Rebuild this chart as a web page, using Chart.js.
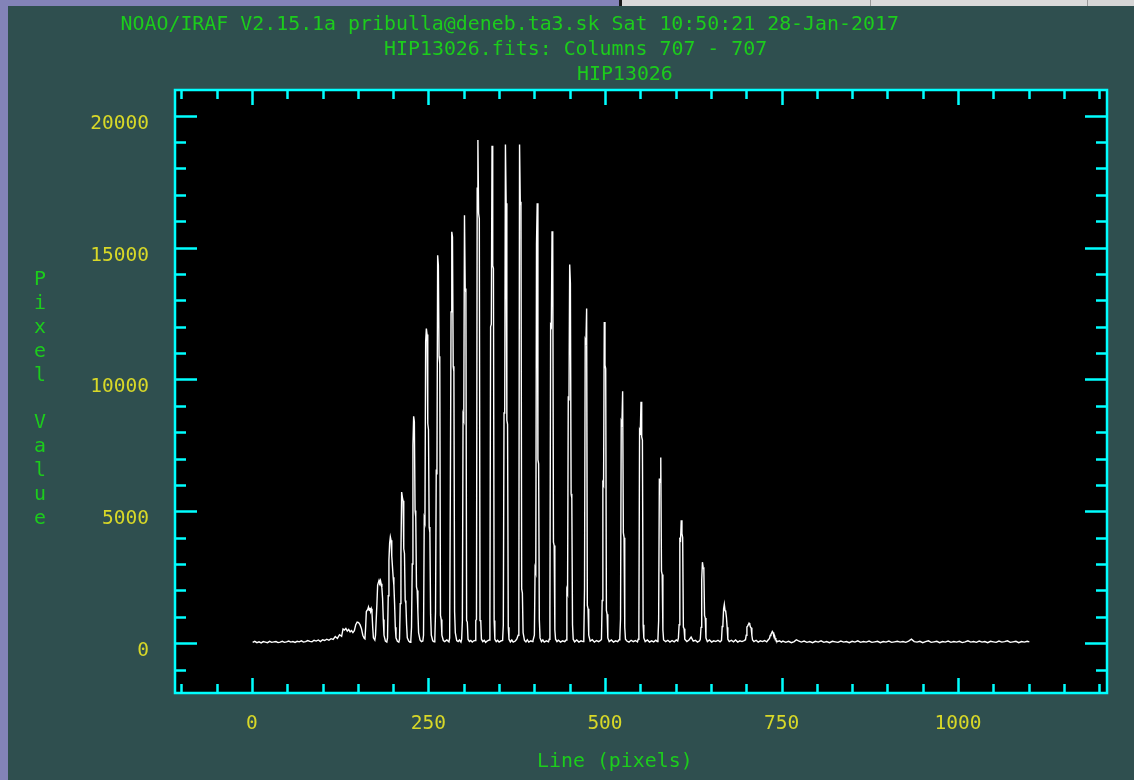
<!DOCTYPE html>
<html>
<head>
<meta charset="utf-8">
<script src="https://cdn.jsdelivr.net/npm/chart.js@4.4.1/dist/chart.umd.min.js"></script>
<style>
html,body{margin:0;padding:0;background:#2f4f4f;width:1134px;height:780px;overflow:hidden;}
#wrap{position:relative;width:1134px;height:780px;}
#c{position:absolute;left:0;top:0;}
.strip{position:absolute;box-sizing:border-box;}
</style>
</head>
<body>
<div id="wrap">
<canvas id="c" width="1134" height="780"></canvas>
<div class="strip" style="left:0;top:0;width:8px;height:780px;background:#8383b8"></div>
<div class="strip" style="left:0;top:0;width:619px;height:6px;background:#8383b8"></div>
<div class="strip" style="left:619px;top:0;width:252px;height:6px;background:#d9d9d9;border-left:3px solid #1a1a1a;border-right:1px solid #999"></div>
<div class="strip" style="left:871px;top:0;width:217px;height:6px;background:#dadada;border-right:1px solid #999"></div>
<div class="strip" style="left:1088px;top:0;width:46px;height:6px;background:#d6d6d6"></div>
</div>
<script>
// ---- Texts ----
const systemLine = "NOAO/IRAF V2.15.1a pribulla@deneb.ta3.sk Sat 10:50:21 28-Jan-2017";
const fileLine = "HIP13026.fits: Columns 707 - 707";
const objectLine = "HIP13026";
const xAxisTitle = "Line (pixels)";
const yAxisTitle = "Pixel Value";

// ---- Axis ticks ----
const xMajorTicks = [0, 250, 500, 750, 1000];
const yMajorTicks = [0, 5000, 10000, 15000, 20000];
const xRange = [-109, 1211];
const yRange = [-1890, 20975];

// ---- Spectrum (line, pixel value) ----
const farLeftWing = [
  [1,30],[4,70],[7,20],[10,50],[13,10],[16,60],[19,40],[22,20],[25,70],[28,30],
  [31,50],[34,60],[37,20],[40,40],[43,70],[46,30],[49,50],[52,80],[55,40],[58,60],
  [61,30],[64,70],[67,50],[70,90],[73,40],[76,60],[79,100],[82,70],[85,50],[88,110],
  [91,80],[94,120],[97,60],[100,130],[103,100],[106,150],[109,110],[112,170],[115,140],
  [118,250],[121,180],[124,320],[127,260]
];
const risingOrders = [
  [129,540],[131,500],[133,560],[135,460],[137,520],[139,430],[141,480],[143,400],[145,470],
  [147,700],[149,800],[151,780],[153,700],[155,560],[157,300],[159,180],[160,160],
  [161,600],[162,1200],[164,1280],[165,1370],[166,1250],[167,1340],[168,1200],[169,1300],[170,1150],[171,600],[172,200],[174,120],
  [175,300],[177,1500],[178,2200],[180,2380],[181,2300],[182,2380],[183,2250],[184,2100],[185,1700],[186,900],[187,300],[189,80],[191,40],
  [192,200],[193,1800],[194,3140],[195,3800],[196,4030],[197,3900],[198,3300],[199,2900],[200,2500],[201,2190],[202,1500],[203,600],[204,200],[206,70],[208,40],
  [209,150],[210,1500],[211,3390],[212,5730],[213,5540],[214,5400],[215,3580],[216,3400],[217,1620],[218,1500],[219,700],[220,200],[222,80],[224,30],
  [225,100],[226,600],[227,3000],[228,7500],[229,8600],[230,8400],[231,5030],[232,4800],[233,2130],[234,2000],[235,1200],[236,400],[238,120],[240,60],
  [242,80],[243,300],[244,4720],[245,4600],[246,11420],[247,11930],[248,11700],[249,8330],[250,8100],[251,4400],[252,4200],[253,1100],[254,300],[256,90],[258,50],
  [259,150],[260,1200],[261,6580],[262,6400],[263,14710],[264,14330],[265,10880],[266,10600],[267,1050],[268,900],[269,300],[271,100],[273,60],[276,120],[279,50]
];
const peakOrders = [
  [280,200],[281,5860],[282,12560],[283,15600],[284,15400],[285,10500],[286,10300],[287,1200],[288,400],[290,100],[292,60],[294,120],[296,40],
  [297,150],[298,860],[299,8630],[300,8500],[301,16230],[302,13450],[303,13300],[304,860],[305,800],[306,150],[308,60],[310,100],[312,40],[314,90],
  [316,100],[317,860],[318,900],[319,17250],[320,19080],[321,16300],[322,16100],[323,860],[324,880],[325,150],[327,60],[329,110],[331,30],[333,80],
  [336,120],[337,860],[338,11990],[339,12100],[340,18860],[341,14310],[342,14200],[343,860],[344,150],[346,60],[348,110],[350,40],[353,90],
  [355,100],[356,700],[357,8730],[358,8800],[359,18910],[360,16680],[361,8450],[362,8300],[363,600],[364,150],[366,50],[368,120],[370,40],[373,80],[375,150],
  [377,300],[378,1500],[379,18910],[380,16740],[381,16600],[382,2060],[383,1900],[384,400],[386,100],[388,50],[390,130],[392,40],[395,90],[397,60],
  [398,100],[400,300],[401,2820],[402,2700],[403,15120],[404,16680],[405,6960],[406,6800],[407,900],[408,200],[410,60],[412,120],[414,40],[417,90],[420,50],
  [421,150],[422,1240],[423,12060],[424,12000],[425,15620],[426,15310],[427,3830],[428,3700],[429,500],[430,150],[432,60],[434,110],[437,40],[440,90],[443,60],
  [445,120],[446,2000],[447,1900],[448,9360],[449,9200],[450,14360],[451,13640],[452,5670],[453,5500],[454,700],[455,150],[457,50],[460,120],[463,40],[466,90],[469,60]
];
const fallingOrders = [
  [470,150],[471,2060],[472,11490],[473,11400],[474,12690],[475,1430],[476,1300],[477,300],[479,80],[482,130],[485,40],[488,100],[491,60],[494,110],
  [495,150],[496,1620],[497,6070],[498,6000],[499,12180],[500,10540],[501,10400],[502,1240],[503,1100],[504,200],[506,60],[509,120],[512,40],[515,90],[518,60],[520,130],
  [521,200],[522,925],[523,8390],[524,8300],[525,9550],[526,4190],[527,4000],[528,600],[529,150],[531,80],[534,40],[537,110],[540,60],[543,100],[546,50],
  [547,150],[548,670],[549,8070],[550,8000],[551,9150],[552,7820],[553,7700],[554,700],[555,200],[557,60],[560,120],[563,40],[566,90],[569,50],[572,110],[574,60],
  [575,150],[576,860],[577,6240],[578,6100],[579,7040],[580,2730],[581,2600],[582,500],[583,120],[586,60],[589,110],[592,40],[595,100],[598,50],[601,120],[603,80],
  [604,200],[605,700],[606,3940],[607,3900],[608,4660],[609,4150],[610,4000],[611,610],[612,550],[613,150],[616,60],[619,120],[622,230],[625,80],[628,110],[631,40],[634,90],
  [635,150],[636,600],[637,2400],[638,3070],[639,2880],[640,2800],[641,1050],[642,950],[643,200],[645,60],[648,120],[651,40],[654,90],[657,60],[660,110],[663,50],
  [665,100],[666,630],[667,700],[668,1300],[669,1470],[670,1240],[671,1200],[672,980],[673,600],[674,150],[676,60],[679,110],[682,50],[685,120],[688,40],[691,90],[694,60],[697,100],[699,130],
  [700,300],[701,610],[702,650],[703,700],[704,760],[705,720],[706,610],[707,580],[708,300],[709,120],[711,60],[714,110],[717,40],[720,90],[723,60],[726,100],[729,50],[731,120],[733,180],
  [734,290],[735,330],[736,380],[737,440],[738,400],[739,290],[740,300],[741,200],[742,120],[744,60],[747,90],[750,40]
];
const farRightWing = [
  [752,80],[756,30],[760,70],[764,20],[768,60],[771,130],[774,90],[778,40],[782,80],[786,30],
  [790,60],[794,20],[798,70],[802,40],[806,90],[810,30],[814,60],[818,20],[822,70],[826,50],
  [830,30],[834,80],[838,40],[842,60],[846,20],[850,70],[854,40],[858,90],[862,30],[866,60],
  [870,40],[874,80],[878,30],[882,50],[886,70],[890,20],[894,60],[898,40],[902,80],[906,30],
  [910,50],[914,70],[918,40],[922,60],[926,30],[930,80],[934,150],[938,60],[942,40],[946,70],
  [950,20],[954,60],[958,90],[962,30],[966,50],[970,70],[974,20],[978,60],[982,40],[986,80],
  [990,30],[994,60],[998,40],[1002,70],[1006,20],[1010,50],[1014,90],[1018,40],[1022,60],[1026,30],
  [1030,80],[1034,40],[1038,60],[1042,20],[1046,70],[1050,50],[1054,30],[1058,80],[1062,40],[1066,60],
  [1070,90],[1074,30],[1078,50],[1082,70],[1086,20],[1090,60],[1094,40],[1098,70],[1101,50]
];

const spectrum = [].concat(farLeftWing, risingOrders, peakOrders, fallingOrders, farRightWing)
  .map(([x, y]) => ({x, y}));

const FONT = 'DejaVu Sans Mono';
const GREEN = '#1ccc1c';
const YELLOW = '#d8d828';
const CYAN = '#00ffff';

const framePlugin = {
  id: 'irafFrame',
  beforeDraw(chart) {
    const {ctx, chartArea: a} = chart;
    ctx.save();
    ctx.fillStyle = '#000000';
    ctx.fillRect(a.left, a.top, a.right - a.left, a.bottom - a.top);
    ctx.restore();
  },
  afterDraw(chart) {
    const {ctx, chartArea: a} = chart;
    const xs = chart.scales.x, ys = chart.scales.y;
    ctx.save();
    ctx.strokeStyle = CYAN;
    ctx.lineWidth = 2.5;
    ctx.beginPath();
    // x ticks (bottom and top), every 50
    for (let v = -100; v <= 1200; v += 50) {
      const px = Math.round(xs.getPixelForValue(v)) + 0.5;
      const len = (v % 250 === 0) ? 15 : 9;
      ctx.moveTo(px, a.bottom); ctx.lineTo(px, a.bottom - len);
      ctx.moveTo(px, a.top); ctx.lineTo(px, a.top + len);
    }
    // y ticks (left and right), every 1000
    for (let v = -1000; v <= 20000; v += 1000) {
      const py = Math.round(ys.getPixelForValue(v)) + 0.5;
      const len = (v % 5000 === 0) ? 22 : 11;
      ctx.moveTo(a.left, py); ctx.lineTo(a.left + len, py);
      ctx.moveTo(a.right, py); ctx.lineTo(a.right - len, py);
    }
    ctx.stroke();
    ctx.strokeRect(a.left, a.top, a.right - a.left, a.bottom - a.top);

    // titles
    ctx.font = '19.9px "' + FONT + '"';
    ctx.fillStyle = GREEN;
    ctx.textAlign = 'left';
    ctx.textBaseline = 'alphabetic';
    ctx.fillText(systemLine, 120.5, 29.5);
    ctx.fillText(fileLine, 384, 54.5);
    ctx.fillText(objectLine, 577, 79.5);
    // x axis title
    ctx.fillText(xAxisTitle, 537, 767);
    // y axis title, one letter per row
    ctx.textAlign = 'center';
    const letters = yAxisTitle.split('');
    letters.forEach((ch, i) => {
      if (ch !== ' ') ctx.fillText(ch, 40, 285 + i * 23.9);
    });
    ctx.restore();
  }
};

new Chart(document.getElementById('c'), {
  type: 'line',
  data: {
    datasets: [{
      data: spectrum,
      borderColor: '#ffffff',
      borderWidth: 1.4,
      pointRadius: 0,
      tension: 0,
      fill: false
    }]
  },
  options: {
    responsive: false,
    animation: false,
    devicePixelRatio: 1,
    layout: {padding: {top: 90, right: 27, left: 0, bottom: 0}},
    plugins: {legend: {display: false}, tooltip: {enabled: false}, title: {display: false}},
    scales: {
      x: {
        type: 'linear',
        min: xRange[0], max: xRange[1],
        grid: {display: false, drawTicks: false},
        border: {display: false},
        afterBuildTicks: s => { s.ticks = xMajorTicks.map(v => ({value: v})); },
        afterFit: s => { s.height = 87; },
        ticks: {
          color: YELLOW, font: {family: FONT, size: 19.5},
          padding: 19, maxRotation: 0, autoSkip: false,
          callback: v => String(v)
        }
      },
      y: {
        type: 'linear',
        min: yRange[0], max: yRange[1],
        grid: {display: false, drawTicks: false},
        border: {display: false},
        afterBuildTicks: s => { s.ticks = yMajorTicks.map(v => ({value: v})); },
        afterFit: s => { s.width = 175; },
        ticks: {
          color: YELLOW, font: {family: FONT, size: 19.5},
          padding: 26, labelOffset: 8, autoSkip: false,
          callback: v => String(v)
        }
      }
    }
  },
  plugins: [framePlugin]
});
</script>
</body>
</html>
